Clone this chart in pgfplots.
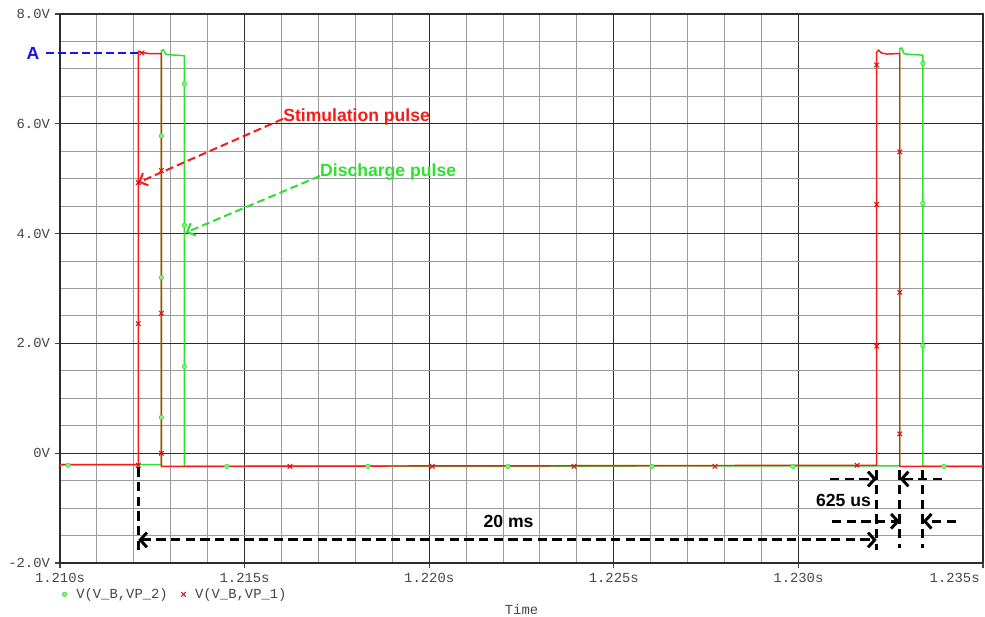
\documentclass[border=0pt]{standalone}
\usepackage{fontspec}
\setmainfont{Liberation Sans}
\setmonofont{Liberation Mono}
\usepackage{pgfplots}
\pgfplotsset{compat=1.18}
\usetikzlibrary{arrows.meta}
\definecolor{sred}{RGB}{250,25,25}
\definecolor{sgreen}{RGB}{45,225,45}
\definecolor{majg}{RGB}{45,45,45}
\definecolor{ming}{RGB}{155,155,155}
\definecolor{tickc}{RGB}{70,70,70}
\definecolor{ablue}{RGB}{20,20,230}
\newcommand{\tfont}{\ttfamily\fontsize{10.4}{12}\selectfont}
\newcommand{\afont}{\bfseries\fontsize{13.2}{15}\selectfont}
\begin{document}
\begin{tikzpicture}
\begin{axis}[
  scale only axis, width=692.25pt, height=411.75pt,
  xmin=1210, xmax=1235, ymin=-2, ymax=8,
  xtick={1210,1215,1220,1225,1230},
  xticklabels={1.210s,1.215s,1.220s,1.225s,1.230s},
  extra x ticks={1235}, extra x tick labels={1.235s},
  extra x tick style={grid=none, xticklabel style={anchor=north east, xshift=1pt}},
  ytick={-2,0,2,4,6,8},
  yticklabels={-2.0V,0V,2.0V,4.0V,6.0V,8.0V},
  minor x tick num=4, minor y tick num=3,
  grid=both,
  major grid style={majg, line width=0.8pt},
  minor grid style={ming, line width=0.8pt},
  tick align=outside, major tick length=4pt, minor tick length=0pt,
  xtick pos=lower, ytick pos=left,
  tick style={tickc, line width=0.8pt},
  axis line style={majg, line width=0.8pt},
  ticklabel style={font=\tfont, text=tickc},
  clip=false,
  xlabel={Time},
  xlabel style={font=\tfont, text=tickc, at={(axis description cs:0.5,-0.084)}, anchor=center},
  legend style={at={(axis description cs:-0.002,-0.036)}, anchor=north west, draw=none, fill=none,
    font=\tfont, text=tickc, legend columns=2,
    /tikz/every even column/.append style={column sep=8pt}},
  legend cell align=left,
]
% lines
\addplot[sgreen, line width=1.1pt, forget plot] coordinates {
 (1210,-0.21) (1212.745,-0.21) (1212.745,7.33) (1212.80,7.35) (1212.86,7.27) (1212.92,7.26)
 (1213.37,7.24) (1213.37,-0.24) (1232.745,-0.23) (1232.745,7.37) (1232.80,7.38) (1232.86,7.28)
 (1232.92,7.27) (1233.37,7.25) (1233.37,-0.24) (1235,-0.24)};
\addplot[sred, line width=1.1pt, forget plot] coordinates {
 (1210,-0.21) (1212.12,-0.21) (1212.12,7.32) (1212.20,7.30) (1212.40,7.28) (1212.745,7.28)
 (1212.745,-0.24) (1232.12,-0.22) (1232.12,7.30) (1232.17,7.34) (1232.25,7.29) (1232.40,7.27)
 (1232.745,7.28) (1232.745,-0.24) (1235,-0.24)};
% markers
\addplot[only marks, mark=*, mark size=1.7pt, draw=sgreen, fill=sgreen!55] coordinates {
 (1210.22,-0.22) (1212.745,5.78) (1212.745,3.20) (1212.745,0.65) (1213.37,6.73) (1213.37,4.15)
 (1213.37,1.58) (1214.52,-0.24) (1218.34,-0.24) (1222.13,-0.24) (1226.03,-0.24) (1229.85,-0.24)
 (1233.37,7.10) (1233.37,4.55) (1233.37,1.96) (1233.94,-0.24)};
\addlegendentry{\hspace{5pt}V(V\_B,VP\_2)}
\addplot[only marks, mark=x, mark size=2.4pt, sred!85!black, line width=0.8pt] coordinates {
 (1212.22,7.29) (1212.12,4.93) (1212.12,2.36) (1212.12,-0.22) (1212.745,5.15) (1212.745,2.55)
 (1212.745,0.0) (1216.23,-0.24) (1220.08,-0.24) (1223.92,-0.24) (1227.74,-0.24) (1231.59,-0.22)
 (1232.12,7.07) (1232.12,4.53) (1232.12,1.95) (1232.745,5.49) (1232.745,2.93) (1232.745,0.35)};
\addlegendentry{\hspace{5pt}V(V\_B,VP\_1)}
% annotations
\draw[ablue, line width=1.4pt, dash pattern=on 6pt off 3pt] (axis cs:1209.62,7.29) -- (axis cs:1212.12,7.29);
\node[ablue, font=\afont, inner sep=0pt] at (axis cs:1209.27,7.29) {A};
\draw[sred, line width=1.5pt, dash pattern=on 6pt off 3pt, -{Straight Barb[length=5pt,width=10pt]}]
  (axis cs:1216.04,6.09) -- (axis cs:1212.12,4.93);
\node[anchor=west, text=sred, font=\afont, inner sep=0pt] at (axis cs:1216.04,6.13) {Stimulation pulse};
\draw[sgreen, line width=1.5pt, dash pattern=on 6pt off 3pt, -{Straight Barb[length=5pt,width=10pt]}]
  (axis cs:1217.04,5.05) -- (axis cs:1213.41,4.02);
\node[anchor=west, text=sgreen, font=\afont, inner sep=0pt] at (axis cs:1217.04,5.13) {Discharge pulse};
\begin{scope}[black, line width=2.2pt, dash pattern=on 7pt off 4pt]
\draw (axis cs:1212.12,-0.26) -- (axis cs:1212.12,-1.76);
\draw (axis cs:1232.12,-0.31) -- (axis cs:1232.12,-1.76);
\draw (axis cs:1232.745,-0.31) -- (axis cs:1232.745,-1.72);
\draw (axis cs:1233.37,-0.31) -- (axis cs:1233.37,-1.72);
\draw[{Straight Barb[length=5pt,width=11pt]}-{Straight Barb[length=5pt,width=11pt]}]
  (axis cs:1212.12,-1.58) -- (axis cs:1232.12,-1.58);
\draw[-{Straight Barb[length=5pt,width=11pt]}] (axis cs:1230.86,-0.47) -- (axis cs:1232.12,-0.47);
\draw[-{Straight Barb[length=5pt,width=11pt]}] (axis cs:1233.89,-0.47) -- (axis cs:1232.745,-0.47);
\draw[-{Straight Barb[length=5pt,width=11pt]}] (axis cs:1230.91,-1.24) -- (axis cs:1232.745,-1.24);
\draw[-{Straight Barb[length=5pt,width=11pt]}] (axis cs:1234.27,-1.24) -- (axis cs:1233.37,-1.24);
\end{scope}
\node[font=\afont, inner sep=0pt] at (axis cs:1222.15,-1.25) {20 ms};
\node[font=\afont, inner sep=0pt] at (axis cs:1231.22,-0.86) {625 us};
\end{axis}
\pgfresetboundingbox
\path[use as bounding box] ([shift={(-45pt,-40.5pt)}]current axis.south west) rectangle ([shift={(1.5pt,10.5pt)}]current axis.north east);
\end{tikzpicture}
\end{document}
